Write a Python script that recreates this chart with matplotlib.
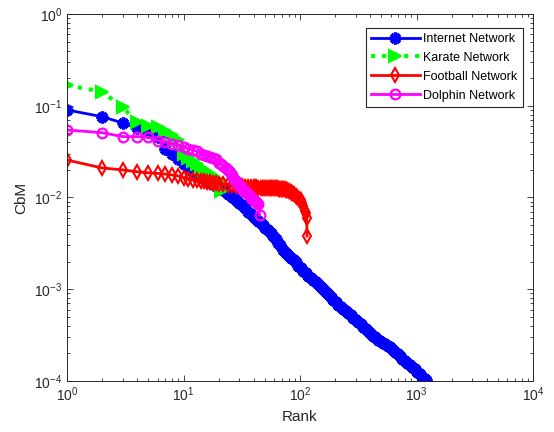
import matplotlib
matplotlib.use('Agg')
import matplotlib.pyplot as plt

plt.rcParams['font.family'] = ['Liberation Sans', 'DejaVu Sans']
plt.rcParams['mathtext.fontset'] = 'custom'
plt.rcParams['mathtext.rm'] = 'Liberation Sans'
plt.rcParams['mathtext.it'] = 'Liberation Sans:italic'

# Internet network (about 1200 nodes, read along the band)
internet_rank = [1, 2, 3, 4, 5, 6, 7, 8, 9, 10, 11, 12, 13, 14, 15, 16, 17, 18, 19, 20,
                 21, 22, 23, 24, 25, 26, 27, 28, 29, 30, 32, 34, 36, 38, 40, 42, 44, 46,
                 48, 50, 53, 56, 59, 62, 65, 68, 72, 76, 80, 84, 88, 92, 97, 102, 107,
                 112, 118, 124, 130, 137, 144, 151, 159, 167, 175, 184, 193, 203, 213,
                 224, 235, 247, 259, 272, 286, 300, 315, 331, 348, 365, 383, 402, 422,
                 443, 465, 488, 512, 538, 565, 593, 623, 654, 687, 721, 757, 795, 835,
                 877, 921, 967, 1015, 1066, 1119, 1175, 1200]
internet_cbm = [0.090, 0.076, 0.065, 0.057, 0.052, 0.046, 0.034, 0.030, 0.026, 0.023,
                0.021, 0.019, 0.018, 0.017, 0.016, 0.015, 0.0145, 0.014, 0.0135, 0.013,
                0.0125, 0.0121, 0.0116, 0.0110, 0.0106, 0.0102, 0.0098, 0.0095, 0.0091,
                0.0088, 0.0082, 0.0076, 0.0070, 0.0066, 0.0062, 0.0059, 0.0056, 0.0053,
                0.0050, 0.0047, 0.0044, 0.0041, 0.0038, 0.0035, 0.0032, 0.0030, 0.0027,
                0.0025, 0.0023, 0.0022, 0.0021, 0.0020, 0.0018, 0.0017, 0.0016, 0.0015,
                0.0014, 0.00133, 0.00127, 0.00120, 0.00113, 0.00107, 0.00101, 0.00094,
                0.00088, 0.00083, 0.00077, 0.00072, 0.00068, 0.00064, 0.00061, 0.00058,
                0.00055, 0.00052, 0.00049, 0.00046, 0.00044, 0.00042, 0.00039, 0.00037,
                0.00035, 0.00033, 0.00031, 0.00030, 0.00028, 0.00027, 0.00026, 0.00025,
                0.00024, 0.000232, 0.000220, 0.000208, 0.000196, 0.000185, 0.000175,
                0.000166, 0.000157, 0.000149, 0.000142, 0.000134, 0.000126, 0.000118,
                0.000111, 0.000105, 0.000102]

# Karate network
karate_rank = list(range(1, 22))
karate_cbm = [0.168, 0.142, 0.097, 0.066, 0.060, 0.058, 0.053, 0.048, 0.042, 0.030,
              0.027, 0.025, 0.023, 0.021, 0.020, 0.019, 0.018, 0.017, 0.016, 0.015, 0.0118]

# Football network
football_rank = list(range(1, 21)) + list(range(22, 81, 2)) + \
    [83, 86, 89, 92, 95, 98, 101, 104, 107, 110, 112, 114, 115]
football_cbm = [0.0256, 0.021, 0.0200, 0.0191, 0.0186, 0.0183, 0.0180, 0.0176, 0.0172,
                0.0165, 0.0160, 0.0157, 0.0155, 0.0153, 0.0150, 0.0148, 0.0147, 0.0145,
                0.0143, 0.0142,
                0.0140, 0.0138, 0.0136, 0.0134, 0.0133, 0.0132, 0.0131, 0.0130, 0.0130,
                0.0129, 0.0129, 0.0128, 0.0128, 0.0128, 0.0127, 0.0127, 0.0127, 0.0127,
                0.0126, 0.0126, 0.0126, 0.0126, 0.0125, 0.0125, 0.0124, 0.0124, 0.0123,
                0.0122, 0.0121, 0.0119,
                0.0116, 0.0112, 0.0108, 0.0104, 0.0100, 0.0097, 0.0093, 0.0088, 0.0080,
                0.0072, 0.0068, 0.0060, 0.0038]

# Dolphin network
dolphin_rank = list(range(1, 46))
dolphin_cbm = [0.0544, 0.0509, 0.0461, 0.0461, 0.0454, 0.0417, 0.0406, 0.0383, 0.0373,
               0.0358, 0.034, 0.033, 0.032, 0.030, 0.029, 0.028, 0.0275, 0.027, 0.026,
               0.024, 0.023, 0.022, 0.021, 0.020, 0.019, 0.0175, 0.016, 0.0152, 0.0145,
               0.0138, 0.013, 0.0125, 0.012, 0.0115, 0.0112, 0.0108, 0.0104, 0.0100,
               0.0097, 0.0094, 0.0092, 0.0090, 0.0088, 0.0086, 0.0064]

fig = plt.figure(figsize=(5.54, 4.32), dpi=100)
ax = fig.add_axes([67 / 554, 51 / 432, 466 / 554, 367 / 432])

ax.plot(internet_rank, internet_cbm, '-', marker=(8, 2, 0), color='#0000ff', lw=2,
        ms=8.5, mew=2.5, label='Internet Network')
ax.plot(karate_rank, karate_cbm, ':>', color='#00ff00', lw=3, ms=9, mew=1.5,
        label='Karate Network')
ax.plot(football_rank, football_cbm, '-d', color='#ff0000', lw=2, ms=7, mew=1.5,
        mfc='none', label='Football Network')
ax.plot(dolphin_rank, dolphin_cbm, '-o', color='#ff00ff', lw=2, ms=7, mew=1.6,
        mfc='none', label='Dolphin Network')

ax.set_xscale('log')
ax.set_yscale('log')
ax.set_xlim(1, 1e4)
ax.set_ylim(1e-4, 1)

ax.set_xlabel('Rank', fontsize=11, color='#262626')
ax.set_ylabel('CbM', fontsize=11, color='#262626')
ax.tick_params(which='both', direction='in', top=True, right=True, colors='#262626',
               labelsize=10)
ax.tick_params(which='major', length=4, width=0.6)
ax.tick_params(which='minor', length=2, width=0.6)
for s in ax.spines.values():
    s.set_color('#262626')
    s.set_linewidth(0.7)

leg = ax.legend(loc='upper right', bbox_to_anchor=(0.978, 0.962), borderaxespad=0,
                fontsize=9, handlelength=3.9, handletextpad=0.3, labelspacing=0.55,
                fancybox=False, framealpha=1, edgecolor='#262626')
leg.get_frame().set_linewidth(0.8)

fig.savefig('out.png', dpi=100)
